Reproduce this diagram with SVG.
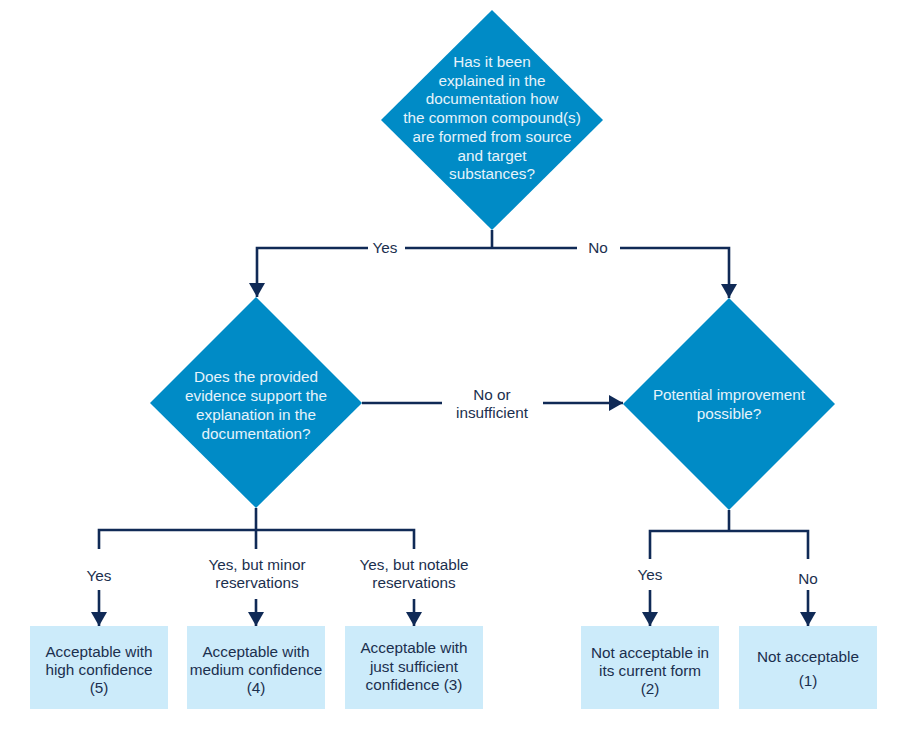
<svg xmlns="http://www.w3.org/2000/svg" width="904" height="730" viewBox="0 0 904 730">
<style>
.dia{fill:#008BC6}
.box{fill:#CCEBFA}
.dt{font-family:"Liberation Sans",Arial,sans-serif;font-size:15.3px;fill:#E6F3FB;text-anchor:middle}
.bt{font-family:"Liberation Sans",Arial,sans-serif;font-size:15.3px;fill:#1B2F4E;text-anchor:middle}
.lb{font-family:"Liberation Sans",Arial,sans-serif;font-size:15.3px;fill:#1B2F4E;text-anchor:middle}
.ln{fill:none;stroke:#102A56;stroke-width:2.6}
</style>
<defs>
<marker id="ah" markerUnits="userSpaceOnUse" markerWidth="14" markerHeight="16" viewBox="0 0 14 16" refX="14" refY="8" orient="auto">
<path d="M0,0 L14,8 L0,16 Z" fill="#102A56"/>
</marker>
</defs>
<rect width="904" height="730" fill="#fff"/>
<g id="connectors">
<path class="ln" d="M492,230 V248"/>
<path class="ln" d="M368,248 H257 V297" marker-end="url(#ah)"/>
<path class="ln" d="M405,248 H577"/>
<path class="ln" d="M620,248 H729 V298" marker-end="url(#ah)"/>
<path class="ln" d="M362,403 H442"/>
<path class="ln" d="M543,403 H623" marker-end="url(#ah)"/>
<path class="ln" d="M256,508 V530"/>
<path class="ln" d="M99,549 V530 H414 V549"/>
<path class="ln" d="M256,530 V549"/>
<path class="ln" d="M99,590 V626" marker-end="url(#ah)"/>
<path class="ln" d="M256,599 V626" marker-end="url(#ah)"/>
<path class="ln" d="M414,599 V626" marker-end="url(#ah)"/>
<path class="ln" d="M729,510 V531"/>
<path class="ln" d="M650,559 V531 H808 V559"/>
<path class="ln" d="M650,590 V626" marker-end="url(#ah)"/>
<path class="ln" d="M808,590 V626" marker-end="url(#ah)"/>
<text class="lb" x="385" y="253">Yes</text>
<text class="lb" x="598" y="253">No</text>
<text class="lb" x="492" y="400">No or</text>
<text class="lb" x="492" y="418">insufficient</text>
<text class="lb" x="99" y="581">Yes</text>
<text class="lb" x="257" y="570">Yes, but minor</text>
<text class="lb" x="257" y="588">reservations</text>
<text class="lb" x="414" y="570">Yes, but notable</text>
<text class="lb" x="414" y="588">reservations</text>
<text class="lb" x="650" y="580">Yes</text>
<text class="lb" x="808" y="584">No</text>
</g>
<g id="q1">
<polygon class="dia" points="492,10 603,120 492,230 381,120"/>
<text class="dt" x="492" y="67">Has it been</text>
<text class="dt" x="492" y="86">explained in the</text>
<text class="dt" x="492" y="104">documentation how</text>
<text class="dt" x="492" y="123">the common compound(s)</text>
<text class="dt" x="492" y="142">are formed from source</text>
<text class="dt" x="492" y="161">and target</text>
<text class="dt" x="492" y="179">substances?</text>
</g>
<g id="q2">
<polygon class="dia" points="256,297 362,403 256,508 150,403"/>
<text class="dt" x="256" y="382">Does the provided</text>
<text class="dt" x="256" y="401">evidence support the</text>
<text class="dt" x="256" y="420">explanation in the</text>
<text class="dt" x="256" y="439">documentation?</text>
</g>
<g id="q3">
<polygon class="dia" points="729,298 835,404 729,510 623,404"/>
<text class="dt" x="729" y="400">Potential improvement</text>
<text class="dt" x="729" y="419">possible?</text>
</g>
<g id="r5">
<rect class="box" x="30" y="626" width="138" height="83"/>
<text class="bt" x="99" y="657">Acceptable with</text>
<text class="bt" x="99" y="675">high confidence</text>
<text class="bt" x="99" y="693">(5)</text>
</g>
<g id="r4">
<rect class="box" x="187" y="626" width="138" height="83"/>
<text class="bt" x="256" y="657">Acceptable with</text>
<text class="bt" x="256" y="675">medium confidence</text>
<text class="bt" x="256" y="693">(4)</text>
</g>
<g id="r3">
<rect class="box" x="345" y="626" width="138" height="83"/>
<text class="bt" x="414" y="653">Acceptable with</text>
<text class="bt" x="414" y="672">just sufficient</text>
<text class="bt" x="414" y="690">confidence (3)</text>
</g>
<g id="r2">
<rect class="box" x="581" y="626" width="138" height="83"/>
<text class="bt" x="650" y="658">Not acceptable in</text>
<text class="bt" x="650" y="676">its current form</text>
<text class="bt" x="650" y="694">(2)</text>
</g>
<g id="r1">
<rect class="box" x="739" y="626" width="138" height="83"/>
<text class="bt" x="808" y="662">Not acceptable</text>
<text class="bt" x="808" y="686">(1)</text>
</g>
</svg>
